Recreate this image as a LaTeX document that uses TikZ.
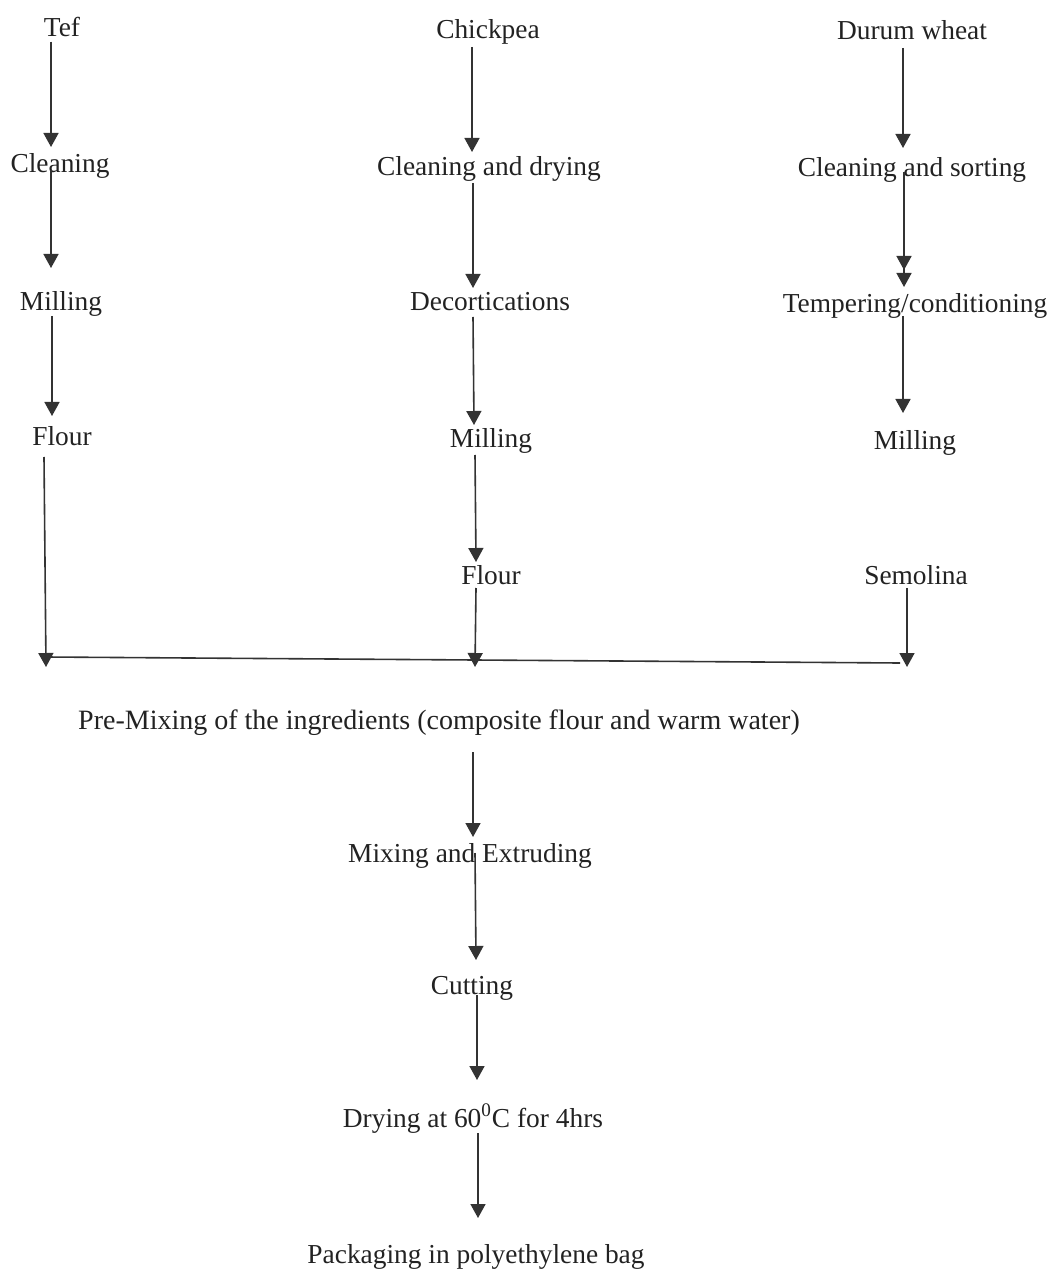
\documentclass[tikz,border=0pt]{standalone}
\usepackage{fontspec}
\setmainfont{Liberation Serif}
\usetikzlibrary{arrows.meta}
\definecolor{ink}{HTML}{222222}
\definecolor{linec}{HTML}{333333}
\begin{document}
\begin{tikzpicture}[x=0.5pt,y=-0.5pt,
  lbl/.style={anchor=base,inner sep=0pt,text=ink,font=\fontsize{13.7}{16}\selectfont},
  arr/.style={draw=linec,line width=0.8pt,-{Triangle[length=7pt,width=7.5pt]}},
  ln/.style={draw=linec,line width=0.8pt}]
\useasboundingbox (0,0) rectangle (1052,1277);
% Tef column
\node[lbl] (tef) at (62,37) {Tef};
\node[lbl] (tclean) at (60,173) {Cleaning};
\node[lbl] (tmill) at (61,311) {Milling};
\node[lbl] (tflour) at (62,446) {Flour};
% Chickpea column
\node[lbl] (chick) at (488,39) {Chickpea};
\node[lbl] (cclean) at (489,176) {Cleaning and drying};
\node[lbl] (cdec) at (490,311) {Decortications};
\node[lbl] (cmill) at (491,448) {Milling};
\node[lbl] (cflour) at (491,584) {Flour};
% Durum wheat column
\node[lbl] (durum) at (912,40) {Durum wheat};
\node[lbl] (dclean) at (912,177) {Cleaning and sorting};
\node[lbl] (dtemp) at (915,313) {Tempering/conditioning};
\node[lbl] (dmill) at (915,450) {Milling};
\node[lbl] (dsem) at (916,584) {Semolina};
% Main line
\node[lbl,font=\fontsize{14}{16}\selectfont] (premix) at (439,729) {Pre-Mixing of the ingredients (composite flour and warm water)};
\node[lbl] (mixext) at (470,862) {Mixing and Extruding};
\node[lbl] (cut) at (472,994) {Cutting};
\node[lbl] (dry) at (473,1127) {Drying at 60\textsuperscript{0}C for 4hrs};
\node[lbl] (pack) at (476,1263) {Packaging in polyethylene bag};
% junction coordinates on the joining line
\coordinate (tj) at (46,667);
\coordinate (cj) at (475,667);
\coordinate (dj) at (907,667);
% Tef arrows
\draw[arr] (tef.south -| 51,0) ++(0,4) -- (51,147);
\draw[arr] (51,170) -- (51,268);
\draw[arr] (52,316) -- (52,416);
\draw[arr] (44,457) -- (tj);
% Chickpea arrows
\draw[arr] (472,47) -- (472,152);
\draw[arr] (473,183) -- (473,288);
\draw[arr] (473,317) -- (474,425);
\draw[arr] (475,455) -- (476,562);
\draw[arr] (476,588) -- (cj);
% Durum arrows
\draw[arr] (903,48) -- (903,148);
\draw[arr] (904,172) -- (904,270);
\draw[arr] (904,176) -- (904,287);
\draw[arr] (903,316) -- (903,413);
\draw[arr] (907,588) -- (dj);
% joining line
\draw[ln] (46,657) -- (475,660) -- (900,663);
% main flow arrows
\draw[arr] (473,752) -- (473,837);
\draw[arr] (475,853) -- (476,960);
\draw[arr] (477,995) -- (477,1080);
\draw[arr] (478,1133) -- (478,1218);
\end{tikzpicture}
\end{document}
